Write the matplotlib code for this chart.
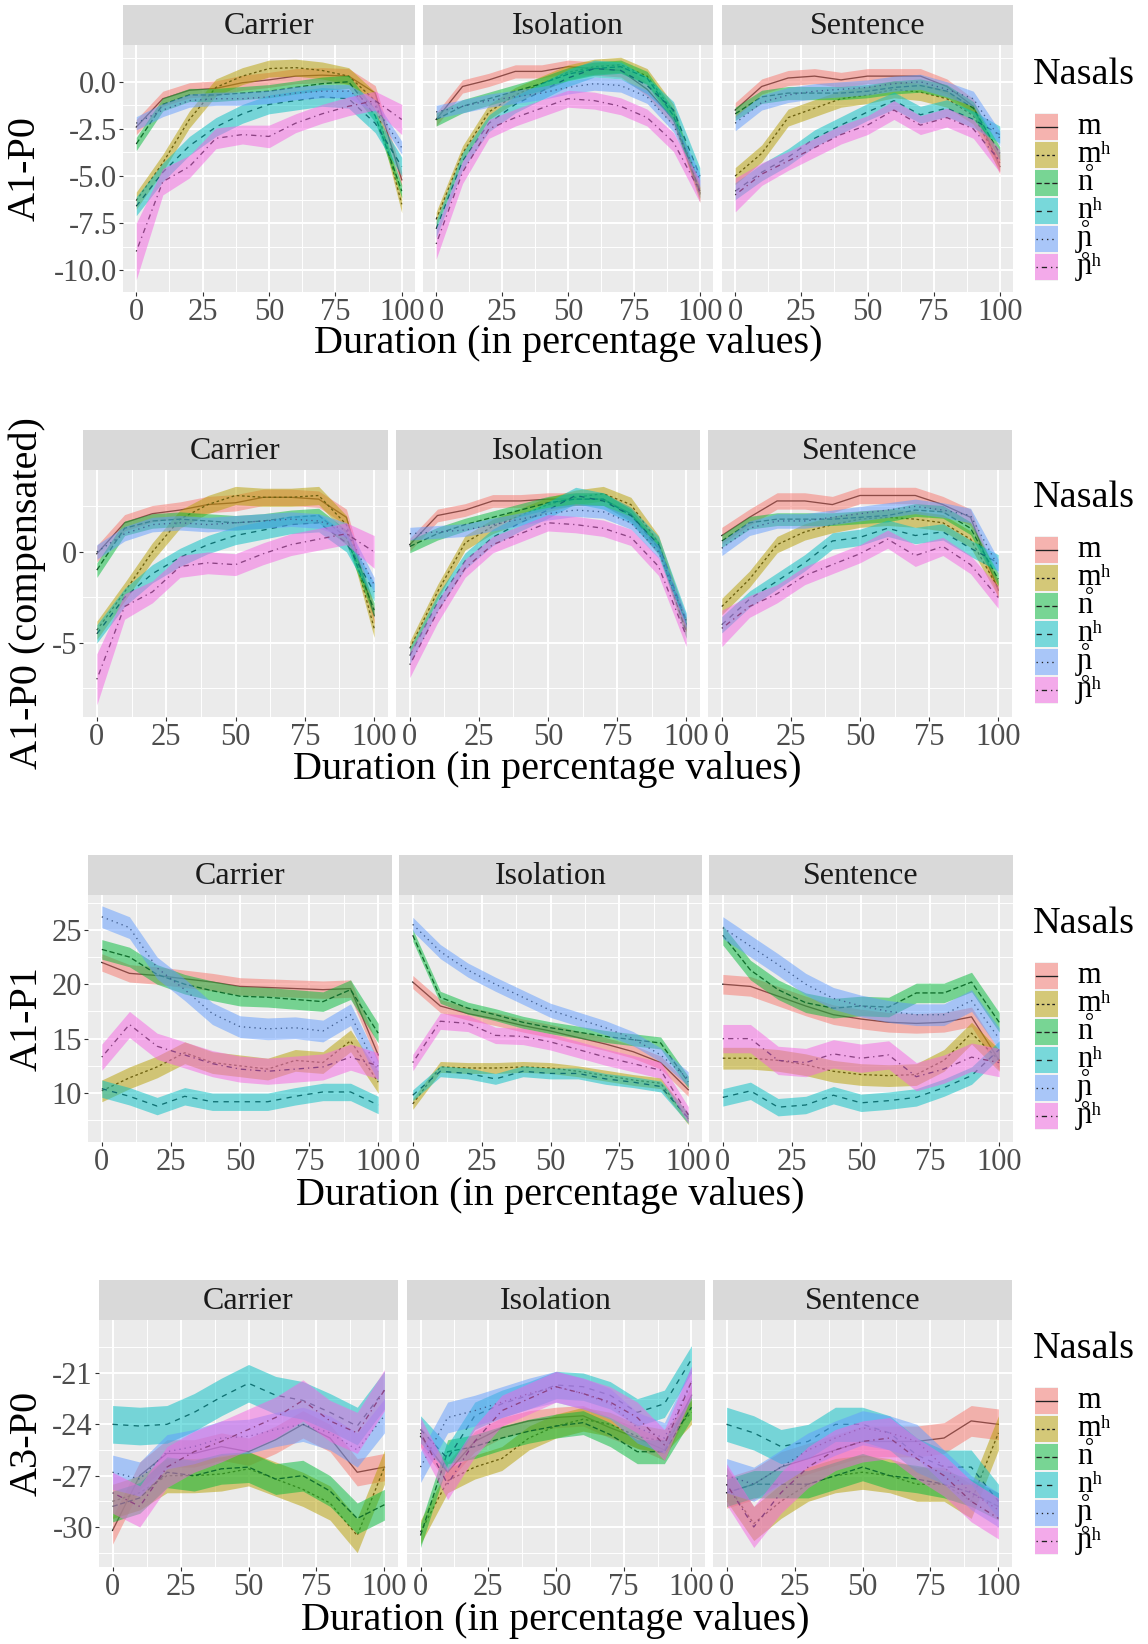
import matplotlib
matplotlib.use("Agg")
import matplotlib.pyplot as plt
from matplotlib.patches import Rectangle

plt.rcParams['font.family'] = ['Liberation Serif', 'DejaVu Serif']

W, H, DPI = 1148, 1644, 100

# ---------------------------------------------------------------- data
duration = [0, 10, 20, 30, 40, 50, 60, 70, 80, 90, 100]
contexts = ["Carrier", "Isolation", "Sentence"]
nasals = ["m", "m\u0325\u02b0", "n", "n\u0325\u02b0", "\u0272", "\u0272\u030a\u02b0"]
# legend text without the voiceless ring, and where the ring goes
nasal_base = ["m", "m\u02b0", "n", "n\u02b0", "\u0272", "\u0272\u02b0"]
nasal_ring = [None, "below", None, "below", None, "above"]
nasal_colors = ["#F8766D", "#B79F00", "#00BA38", "#00BFC4", "#619CFF", "#F564E3"]
# ggplot linetypes: solid, 22, 42, 44, 13, 1343
nasal_dashes = [None, (2, 2), (4, 2), (4, 4), (1, 3), (1, 3, 4, 3)]

# A1-P0 means (order: m, m̥ʰ, n, n̥ʰ, ɲ, ɲ̊ʰ)
a1p0_carrier = [
    [-2.4, -0.9, -0.45, -0.35, -0.05, 0.1, 0.3, 0.35, 0.3, -0.6, -5.2],
    [-6.3, -4.3, -2.0, -0.3, 0.3, 0.7, 0.75, 0.6, 0.3, -1.0, -6.5],
    [-3.3, -1.2, -0.7, -0.7, -0.6, -0.5, -0.3, -0.1, 0.0, -1.8, -5.8],
    [-6.6, -4.8, -3.4, -2.4, -1.7, -1.2, -1.0, -0.8, -0.9, -2.2, -4.5],
    [-2.2, -1.5, -1.0, -0.9, -0.9, -0.8, -0.6, -0.5, -0.5, -1.3, -3.5],
    [-9.0, -5.3, -4.5, -3.0, -2.8, -2.9, -2.2, -1.7, -1.3, -1.0, -2.0],
]
a1p0_isolation = [
    [-2.0, -0.25, 0.1, 0.55, 0.55, 0.8, 0.7, 0.6, -0.4, -2.0, -5.9],
    [-7.3, -3.8, -1.6, -0.7, -0.1, 0.5, 0.8, 0.9, 0.3, -1.6, -6.0],
    [-2.0, -1.3, -0.9, -0.5, -0.1, 0.4, 0.7, 0.8, 0.2, -1.8, -5.8],
    [-7.8, -4.2, -2.2, -1.2, -0.5, 0.2, 0.7, 0.6, -0.2, -1.5, -5.0],
    [-1.6, -1.3, -1.0, -0.8, -0.6, -0.3, -0.1, -0.2, -0.8, -2.3, -5.2],
    [-8.6, -4.8, -2.5, -1.9, -1.4, -0.9, -1.0, -1.3, -1.9, -3.2, -5.8],
]
a1p0_sentence = [
    [-1.5, -0.25, 0.2, 0.3, 0.1, 0.3, 0.3, 0.3, -0.25, -1.3, -4.5],
    [-5.0, -3.8, -1.9, -1.4, -0.9, -0.7, -0.4, -0.55, -0.9, -1.8, -4.3],
    [-1.7, -0.8, -0.6, -0.6, -0.6, -0.5, -0.3, -0.2, -0.5, -1.4, -3.8],
    [-5.8, -4.8, -4.0, -3.0, -2.3, -1.6, -1.0, -1.75, -1.4, -2.0, -2.8],
    [-2.2, -1.1, -0.7, -0.5, -0.4, -0.3, -0.1, 0.0, -0.4, -0.9, -3.0],
    [-6.0, -4.9, -4.2, -3.5, -2.8, -2.3, -1.5, -2.3, -1.9, -2.5, -4.2],
]
a1p0_carrier_hw = [0.4, 0.45, 0.35, 0.5, 0.35,
                   [1.5, 0.7, 0.6, 0.55, 0.5, 0.6, 0.5, 0.5, 0.5, 0.5, 0.8]]
a1p0_isolation_hw = [0.35, 0.4, 0.35, 0.45, 0.35,
                     [0.8, 0.6, 0.5, 0.45, 0.45, 0.45, 0.45, 0.45, 0.45, 0.5, 0.6]]
a1p0_sentence_hw = [0.4, 0.45, 0.35, 0.45, 0.4,
                    [0.9, 0.6, 0.5, 0.5, 0.5, 0.5, 0.5, 0.5, 0.5, 0.5, 0.6]]

# A1-P0 (compensated) means
a1p0c_carrier = [
    [-0.1, 1.6, 2.1, 2.3, 2.6, 2.7, 3.0, 3.0, 2.9, 1.9, -3.5],
    [-4.3, -2.2, 0.0, 1.8, 2.6, 3.1, 3.0, 3.0, 3.1, 1.5, -4.2],
    [-1.0, 1.3, 1.7, 1.8, 1.7, 1.6, 1.7, 1.9, 2.0, 0.8, -3.2],
    [-4.5, -2.5, -1.2, -0.3, 0.4, 0.9, 1.2, 1.5, 1.6, 0.5, -2.2],
    [0.0, 1.0, 1.5, 1.6, 1.5, 1.6, 1.7, 1.8, 1.7, 1.2, -1.8],
    [-7.0, -3.0, -2.2, -0.8, -0.6, -0.7, -0.1, 0.4, 0.7, 1.0, 0.0],
]
a1p0c_isolation = [
    [0.4, 2.0, 2.3, 2.8, 2.8, 2.9, 2.9, 2.9, 2.1, 0.3, -4.0],
    [-5.3, -2.2, 0.5, 1.4, 2.0, 2.6, 3.0, 3.2, 2.6, 0.5, -4.0],
    [0.3, 1.0, 1.5, 1.9, 2.3, 2.7, 2.9, 2.9, 2.0, 0.2, -4.4],
    [-5.7, -2.8, -0.5, 0.8, 1.6, 2.3, 3.1, 2.8, 2.0, 0.4, -3.8],
    [1.0, 1.1, 1.2, 1.5, 1.8, 2.1, 2.3, 2.2, 1.6, 0.0, -3.8],
    [-6.2, -3.3, -0.9, 0.4, 1.0, 1.6, 1.5, 1.3, 0.8, -0.8, -4.6],
]
a1p0c_sentence = [
    [0.9, 1.9, 2.8, 2.8, 2.6, 3.1, 3.1, 3.1, 2.6, 1.9, -2.1],
    [-3.0, -1.5, 0.4, 1.1, 1.5, 1.8, 1.9, 1.8, 1.6, 0.7, -2.0],
    [0.6, 1.6, 1.8, 1.8, 1.8, 1.9, 2.0, 2.3, 2.2, 1.3, -1.5],
    [-4.0, -2.6, -1.6, -0.6, 0.6, 0.8, 1.3, 0.9, 1.1, 0.2, -0.6],
    [0.2, 1.3, 1.7, 1.7, 1.9, 2.1, 2.3, 2.5, 2.3, 2.0, -0.8],
    [-4.2, -3.0, -2.3, -1.3, -0.7, -0.1, 0.7, -0.2, 0.3, -0.7, -2.5],
]
a1p0c_carrier_hw = [0.45, 0.5, 0.4, 0.5, 0.4,
                    [1.4, 0.7, 0.6, 0.6, 0.6, 0.6, 0.6, 0.6, 0.6, 0.6, 0.9]]
a1p0c_isolation_hw = [0.35, 0.4, 0.35, 0.45, 0.35,
                      [0.7, 0.6, 0.5, 0.45, 0.45, 0.45, 0.45, 0.45, 0.45, 0.5, 0.6]]
a1p0c_sentence_hw = [0.45, 0.45, 0.35, 0.45, 0.4,
                     [1.0, 0.6, 0.5, 0.5, 0.5, 0.5, 0.5, 0.6, 0.5, 0.5, 0.6]]

# A1-P1 means
a1p1_carrier = [
    [22.0, 21.0, 20.8, 20.5, 20.2, 19.8, 19.7, 19.6, 19.5, 19.6, 13.5],
    [10.2, 11.4, 12.4, 13.7, 12.8, 12.5, 12.2, 13.0, 12.8, 14.8, 11.0],
    [23.2, 22.5, 20.9, 20.0, 19.4, 18.9, 18.8, 18.6, 18.4, 19.5, 15.5],
    [10.4, 9.7, 8.8, 9.7, 9.2, 9.2, 9.2, 9.7, 10.1, 10.1, 8.9],
    [26.2, 25.2, 21.5, 19.5, 17.3, 16.1, 15.9, 16.0, 15.7, 17.2, 12.0],
    [13.3, 16.3, 14.3, 13.5, 12.7, 12.2, 12.0, 12.2, 12.4, 13.3, 12.5],
]
a1p1_isolation = [
    [20.2, 18.0, 17.3, 16.8, 16.2, 15.7, 15.1, 14.5, 13.8, 12.8, 10.3],
    [9.0, 12.4, 12.3, 12.3, 12.4, 12.3, 12.0, 11.6, 11.2, 10.9, 7.6],
    [24.5, 18.8, 17.8, 17.2, 16.5, 16.0, 15.6, 15.2, 14.9, 14.6, 11.0],
    [9.8, 12.0, 11.8, 11.3, 12.0, 11.8, 11.8, 11.3, 11.0, 10.6, 7.7],
    [25.5, 23.0, 21.3, 20.0, 18.8, 17.6, 16.8, 16.0, 15.0, 13.5, 11.3],
    [12.8, 16.6, 16.4, 15.3, 15.2, 14.7, 14.0, 13.3, 12.7, 12.1, 8.0],
]
a1p1_sentence = [
    [20.0, 19.8, 18.9, 18.0, 17.2, 16.8, 16.5, 16.4, 16.5, 17.0, 13.0],
    [13.2, 13.2, 13.0, 12.6, 12.0, 11.7, 11.6, 11.7, 13.0, 15.5, 13.0],
    [24.5, 21.3, 19.5, 18.3, 17.8, 18.0, 17.9, 19.2, 19.2, 20.2, 16.5],
    [9.6, 10.2, 8.7, 8.9, 9.8, 9.1, 9.3, 9.6, 10.5, 11.6, 14.0],
    [25.2, 23.5, 21.8, 20.0, 18.7, 18.0, 17.5, 17.2, 17.2, 18.5, 15.0],
    [15.0, 15.0, 13.0, 12.8, 13.6, 13.2, 13.5, 11.5, 12.2, 13.3, 12.8],
]
a1p1_carrier_hw = [0.8, 1.0, 0.9, 0.8, 1.0, 1.2]
a1p1_isolation_hw = [0.6, 0.5, 0.55, 0.5, 0.65, 0.75]
a1p1_sentence_hw = [0.9, 1.0, 0.9, 0.8, 1.0, 1.3]

# A3-P0 means
a3p0_carrier = [
    [-30.2, -27.0, -25.7, -25.7, -25.3, -25.6, -24.9, -24.0, -24.8, -26.8, -26.5],
    [-28.5, -28.0, -27.0, -27.0, -26.9, -26.6, -27.2, -27.8, -28.6, -30.5, -26.5],
    [-28.8, -28.3, -26.8, -27.0, -26.6, -26.5, -27.2, -27.0, -27.9, -29.5, -28.7],
    [-24.0, -24.1, -24.0, -23.3, -22.4, -21.6, -22.3, -22.6, -23.3, -24.1, -22.0],
    [-26.8, -27.2, -25.6, -25.3, -24.8, -24.7, -24.3, -24.0, -24.5, -25.5, -23.5],
    [-28.0, -28.8, -26.5, -25.6, -25.0, -24.3, -23.6, -22.6, -23.8, -24.5, -22.0],
]
a3p0_isolation = [
    [-24.7, -26.8, -25.0, -24.2, -23.8, -23.6, -23.5, -24.2, -24.8, -25.5, -22.3],
    [-30.3, -27.3, -26.5, -26.0, -24.8, -24.1, -23.7, -24.0, -24.7, -25.0, -23.3],
    [-30.5, -25.6, -25.3, -24.8, -24.4, -24.1, -23.9, -24.6, -25.6, -25.6, -23.0],
    [-24.3, -26.0, -23.5, -22.8, -22.3, -21.7, -21.8, -22.3, -23.3, -22.8, -20.2],
    [-26.5, -23.6, -23.2, -22.7, -22.2, -21.8, -22.2, -22.8, -24.2, -24.8, -21.5],
    [-24.5, -27.5, -25.0, -23.2, -22.5, -21.8, -22.2, -22.7, -23.6, -25.2, -21.5],
]
a3p0_sentence = [
    [-28.0, -27.5, -26.5, -26.0, -25.5, -25.0, -25.0, -25.0, -24.8, -23.8, -24.0],
    [-27.5, -29.8, -28.5, -27.5, -27.0, -26.8, -27.0, -27.5, -27.5, -28.5, -24.5],
    [-28.0, -27.5, -27.5, -27.5, -27.0, -26.5, -27.0, -27.2, -27.5, -28.0, -28.8],
    [-24.0, -24.5, -25.3, -25.0, -24.0, -24.0, -24.5, -25.8, -26.5, -26.5, -28.5],
    [-27.0, -27.5, -26.5, -25.5, -24.8, -24.2, -24.5, -25.0, -26.5, -28.0, -29.0],
    [-27.5, -30.0, -28.0, -26.5, -25.5, -25.0, -24.8, -26.0, -27.0, -28.5, -29.5],
]
a3p0_carrier_hw = [0.8, 1.0, 0.9, 1.1, 1.0, 1.2]
a3p0_isolation_hw = [0.6, 0.7, 0.7, 0.8, 0.9, 0.9]
a3p0_sentence_hw = [0.9, 1.0, 0.8, 1.0, 1.0, 1.2]

# y-axis breaks and labels for each measure
a1p0_ticks = [-10.0, -7.5, -5.0, -2.5, 0.0]
a1p0_ticklabels = ["-10.0", "-7.5", "-5.0", "-2.5", "0.0"]
a1p0c_ticks = [-5, 0]
a1p0c_ticklabels = ["-5", "0"]
a1p1_ticks = [10, 15, 20, 25]
a1p1_ticklabels = ["10", "15", "20", "25"]
a3p0_ticks = [-30, -27, -24, -21]
a3p0_ticklabels = ["-30", "-27", "-24", "-21"]
x_ticks = [0, 25, 50, 75, 100]
x_ticklabels = ["0", "25", "50", "75", "100"]

# ---------------------------------------------------------------- layout (pixels)
rows = [
    dict(means=[a1p0_carrier, a1p0_isolation, a1p0_sentence],
         hws=[a1p0_carrier_hw, a1p0_isolation_hw, a1p0_sentence_hw],
         panels=[(123, 415), (423, 713), (722, 1013)],
         strip_top=5, top=45, bottom=292, ylim=(-11.15, 1.95),
         yticks=a1p0_ticks, yticklabels=a1p0_ticklabels,
         yminor=[-8.75, -6.25, -3.75, -1.25, 1.25],
         ylabel="A1-P0", ylabel_x=25, xlabel_y=344, legend_y=75),
    dict(means=[a1p0c_carrier, a1p0c_isolation, a1p0c_sentence],
         hws=[a1p0c_carrier_hw, a1p0c_isolation_hw, a1p0c_sentence_hw],
         panels=[(83, 388), (396, 700), (708, 1012)],
         strip_top=430, top=470, bottom=717, ylim=(-9.07, 4.5),
         yticks=a1p0c_ticks, yticklabels=a1p0c_ticklabels,
         yminor=[-7.5, -2.5, 2.5],
         ylabel="A1-P0 (compensated)", ylabel_x=27, xlabel_y=770, legend_y=498),
    dict(means=[a1p1_carrier, a1p1_isolation, a1p1_sentence],
         hws=[a1p1_carrier_hw, a1p1_isolation_hw, a1p1_sentence_hw],
         panels=[(88, 392), (399, 702), (709, 1013)],
         strip_top=855, top=895, bottom=1142, ylim=(5.5, 28.2),
         yticks=a1p1_ticks, yticklabels=a1p1_ticklabels,
         yminor=[7.5, 12.5, 17.5, 22.5, 27.5],
         ylabel="A1-P1", ylabel_x=27, xlabel_y=1195, legend_y=924),
    dict(means=[a3p0_carrier, a3p0_isolation, a3p0_sentence],
         hws=[a3p0_carrier_hw, a3p0_isolation_hw, a3p0_sentence_hw],
         panels=[(99, 398), (407, 705), (713, 1012)],
         strip_top=1280, top=1320, bottom=1567, ylim=(-32.34, -17.9),
         yticks=a3p0_ticks, yticklabels=a3p0_ticklabels,
         yminor=[-31.5, -28.5, -25.5, -22.5, -19.5],
         ylabel="A3-P0", ylabel_x=27, xlabel_y=1620, legend_y=1349),
]

TICK_SIZE = 22
STRIP_SIZE = 23
TITLE_SIZE = 29
LEGEND_TITLE_SIZE = 27.5
LEGEND_LABEL_SIZE = 22
LINE_COLOR = "#222222"
LINE_W = 0.95

fig = plt.figure(figsize=(W / DPI, H / DPI), dpi=DPI)
fig.patch.set_facecolor("white")


def px_axes(x0, y0, x1, y1):
    return fig.add_axes([x0 / W, 1 - y1 / H, (x1 - x0) / W, (y1 - y0) / H])


def band(mean, hw):
    if isinstance(hw, list):
        lo = [m - h for m, h in zip(mean, hw)]
        hi = [m + h for m, h in zip(mean, hw)]
    else:
        lo = [m - hw for m in mean]
        hi = [m + hw for m in mean]
    return lo, hi


def style_line(line, dashes):
    if dashes is None:
        line.set_linestyle("-")
    else:
        line.set_dashes(dashes)


for row in rows:
    for j, (x0, x1) in enumerate(row["panels"]):
        # facet strip
        sax = px_axes(x0, row["strip_top"], x1, row["top"])
        sax.set_facecolor("#D9D9D9")
        sax.set_xticks([])
        sax.set_yticks([])
        for sp in sax.spines.values():
            sp.set_visible(False)
        sax.text(0.5, 0.47, contexts[j], transform=sax.transAxes, ha="center",
                 va="center", fontsize=STRIP_SIZE, color="#1A1A1A")

        # panel
        ax = px_axes(x0, row["top"], x1, row["bottom"])
        ax.set_facecolor("#EBEBEB")
        for sp in ax.spines.values():
            sp.set_visible(False)
        ax.set_xlim(-5, 105)
        ax.set_ylim(*row["ylim"])
        ax.set_xticks(x_ticks)
        ax.set_xticklabels(x_ticklabels)
        ax.set_xticks([12.5, 37.5, 62.5, 87.5], minor=True)
        ax.set_yticks(row["yticks"])
        ax.set_yticks(row["yminor"], minor=True)
        if j == 0:
            ax.set_yticklabels(row["yticklabels"])
        else:
            ax.set_yticklabels([])
        ax.grid(which="major", color="white", linewidth=1.4)
        ax.grid(which="minor", color="white", linewidth=0.7)
        ax.set_axisbelow(True)
        ax.tick_params(which="major", direction="out", length=2.9, width=0.8,
                       color="#333333", pad=1.5, labelsize=TICK_SIZE,
                       labelcolor="#4D4D4D")
        ax.tick_params(which="minor", length=0)
        if j != 0:
            ax.tick_params(axis="y", which="major", length=0)

        means = row["means"][j]
        hws = row["hws"][j]
        for k in range(len(nasals)):
            lo, hi = band(means[k], hws[k])
            ln, = ax.plot(duration, means[k], color=LINE_COLOR, lw=LINE_W, zorder=2)
            style_line(ln, nasal_dashes[k])
            ax.fill_between(duration, lo, hi, color=nasal_colors[k], alpha=0.5,
                            linewidth=0, zorder=2)

    # axis titles
    px0 = row["panels"][0][0]
    px1 = row["panels"][-1][1]
    fig.text(((px0 + px1) / 2) / W, 1 - row["xlabel_y"] / H,
             "Duration (in percentage values)", ha="center", va="center",
             fontsize=TITLE_SIZE, color="black")
    fig.text(row["ylabel_x"] / W, 1 - ((row["top"] + row["bottom"]) / 2) / H,
             row["ylabel"], ha="center", va="center", rotation=90,
             fontsize=TITLE_SIZE, color="black")

# ---------------------------------------------------------------- legends
lax = fig.add_axes([0, 0, 1, 1])
lax.set_xlim(0, W)
lax.set_ylim(H, 0)
lax.axis("off")
renderer = fig.canvas.get_renderer()

# width of the first letter of each label (for centring the voiceless ring)
first_w = []
for lab in nasal_base:
    t = lax.text(0, 0, lab[0], fontsize=LEGEND_LABEL_SIZE)
    first_w.append(t.get_window_extent(renderer).width)
    t.remove()

KEY_X, KEY_W, KEY_H = 1035, 23, 28
LABEL_X = 1077
XHEIGHT = 0.46 * LEGEND_LABEL_SIZE * DPI / 72
for row in rows:
    ty = row["legend_y"]
    lax.text(1033, ty, "Nasals", ha="left", va="center",
             fontsize=LEGEND_TITLE_SIZE, color="black")
    top = ty + 38
    for k, lab in enumerate(nasal_base):
        y = top + k * KEY_H
        lax.add_patch(Rectangle((KEY_X, y), KEY_W, KEY_H, facecolor="#F2F2F2",
                                edgecolor="none"))
        lax.add_patch(Rectangle((KEY_X, y + 1), KEY_W, KEY_H - 2,
                                facecolor=nasal_colors[k], alpha=0.5,
                                edgecolor="none"))
        ln, = lax.plot([KEY_X + 1, KEY_X + KEY_W - 1], [y + KEY_H / 2] * 2,
                       color=LINE_COLOR, lw=LINE_W)
        style_line(ln, nasal_dashes[k])
        base_y = y + KEY_H / 2 + XHEIGHT / 2
        lax.text(LABEL_X, base_y, lab, ha="left", va="baseline",
                 fontsize=LEGEND_LABEL_SIZE, color="black")
        if nasal_ring[k] is not None:
            cx = LABEL_X + first_w[k] / 2
            ry = base_y + 4.5 if nasal_ring[k] == "below" else base_y - XHEIGHT - 5
            lax.plot([cx], [ry], marker="o", markersize=4.2, mfc="none",
                     mec="black", mew=0.8)

fig.savefig("out.png", dpi=DPI)
